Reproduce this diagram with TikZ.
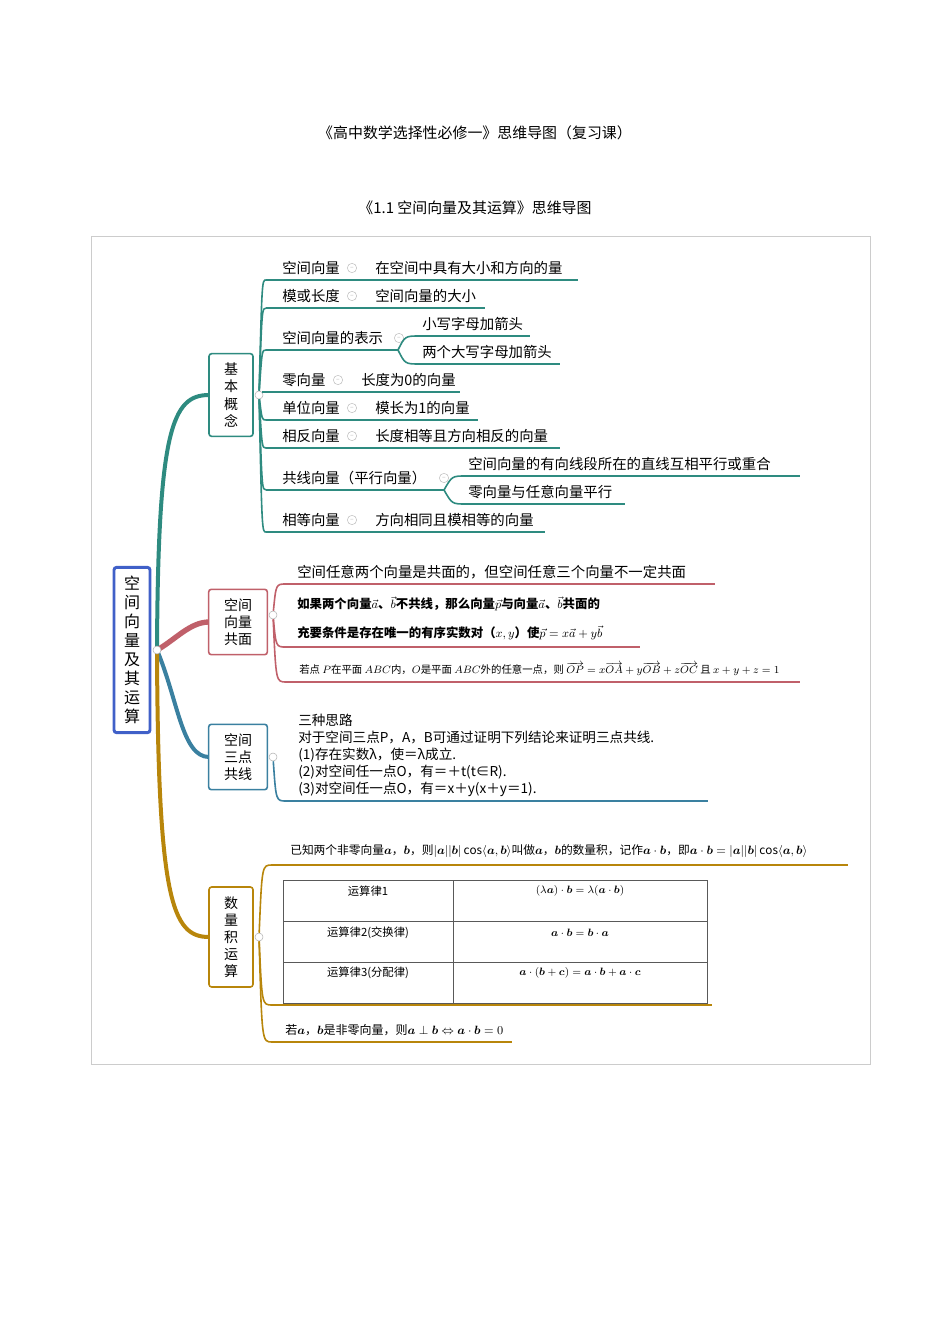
\documentclass[tikz,border=0pt]{standalone}
\usepackage{fontspec}
\setmainfont{Noto Sans CJK SC}
\usepackage{amsmath}
\definecolor{cteal}{HTML}{2E8B80}
\definecolor{cred}{HTML}{C0606A}
\definecolor{cblue}{HTML}{3A80A0}
\definecolor{cgold}{HTML}{B8860B}
\definecolor{cmain}{HTML}{4060C8}
\begin{document}
\begin{tikzpicture}[x=0.75pt,y=-0.75pt,
  lbl/.style={anchor=west,inner sep=0pt,font=\fontsize{10.8}{12}\selectfont},
  sm/.style={anchor=west,inner sep=0pt,font=\fontsize{9.3}{10}\selectfont\bfseries},
  tiny/.style={anchor=west,inner sep=0pt,font=\fontsize{7.8}{9}\selectfont},
  topic/.style={draw,line width=1.2pt,rounded corners=2pt,fill=white,align=center,inner sep=0pt,font=\fontsize{10.5}{12.8}\selectfont},
  uline/.style={line width=1.4pt},
  br/.style={line width=1.2pt},
  dotc/.style={circle,draw=gray!60,fill=white,inner sep=0pt,minimum size=6pt},
  mini/.style={circle,draw=gray!50,inner sep=0pt,minimum size=7pt,font=\fontsize{5}{5}\selectfont,text=gray!60}]
\useasboundingbox (0,0) rectangle (950,1344);
\node (t1) at (475,133) {\fontsize{11.2}{13}\selectfont 《高中数学选择性必修一》思维导图（复习课）};
\node (t2) at (475,208) {\fontsize{11.2}{13}\selectfont 《1.1 空间向量及其运算》思维导图};
\draw[gray!40] (91,236) rectangle (870,1064);

% main branches
\coordinate (m) at (157,650);
\coordinate (b1w) at (209,395);
\coordinate (b2w) at (209,622);
\coordinate (b3w) at (209,757);
\coordinate (b4w) at (209,937);
\draw[cteal,line width=3pt] (m) .. controls (158,430) and (172,395) .. (b1w);
\draw[cred,line width=4pt] (m) .. controls (175,640) and (190,622) .. (b2w);
\draw[cblue,line width=3pt] (m) .. controls (178,700) and (182,757) .. (b3w);
\draw[cgold,line width=3pt] (m) .. controls (158,900) and (172,937) .. (b4w);

\node[topic,draw=cmain,line width=2.2pt,minimum width=27pt,minimum height=124pt,font=\fontsize{12}{14.3}\selectfont] (main) at (132,650) {空\\间\\向\\量\\及\\其\\运\\算};
\node[dotc] (md) at (157,650) {};

% ---------- branch 1
\node[topic,draw=cteal,minimum width=33pt,minimum height=62pt] (b1) at (231,395) {基\\本\\概\\念};
\node[dotc] (d1) at (259,395) {};
\foreach \ty/\ul/\lab/\lx/\ex/\mx in {
  268/280/空间向量/375/578/352,
  296/308/模或长度/375/485/352,
  380/392/零向量/361/460/338,
  408/420/单位向量/375/478/352,
  436/448/相反向量/375/560/352,
  520/532/相等向量/375/545/352}{
  \coordinate (s) at (266,\ul);
  \coordinate (e) at (\ex,\ul);
  \draw[cteal,br] (d1) .. controls (262,\ul) .. (s);
  \draw[cteal,uline] (s) -- (e);
  \node[lbl] at (282,\ty) {\lab};
  \node[mini] at (\mx,\ty) {--};
}
\node[lbl] at (375,268) {在空间中具有大小和方向的量};
\node[lbl] at (375,296) {空间向量的大小};
\node[lbl] at (361,380) {长度为0的向量};
\node[lbl] at (375,408) {模长为1的向量};
\node[lbl] at (375,436) {长度相等且方向相反的向量};
\node[lbl] at (375,520) {方向相同且模相等的向量};
% representation
\coordinate (r0) at (266,350); \coordinate (r1) at (398,350);
\draw[cteal,br] (d1) .. controls (262,350) .. (r0);
\draw[cteal,uline] (r0) -- (r1);
\node[lbl] at (282,338) {空间向量的表示};
\node[mini] at (399,338) {--};
\coordinate (ra) at (420,336); \coordinate (rb) at (530,336);
\coordinate (rc) at (420,364); \coordinate (rd) at (560,364);
\draw[cteal,br] (r1) .. controls (405,336) .. (ra);
\draw[cteal,br] (r1) .. controls (405,364) .. (rc);
\draw[cteal,uline] (ra) -- (rb); \draw[cteal,uline] (rc) -- (rd);
\node[lbl] at (422,324) {小写字母加箭头};
\node[lbl] at (422,352) {两个大写字母加箭头};
% collinear
\coordinate (c0) at (266,490); \coordinate (c1) at (444,490);
\draw[cteal,br] (d1) .. controls (262,490) .. (c0);
\draw[cteal,uline] (c0) -- (c1);
\node[lbl] at (282,478) {共线向量（平行向量）};
\node[mini] at (444,478) {--};
\coordinate (ca) at (466,476); \coordinate (cb) at (800,476);
\coordinate (cc) at (466,504); \coordinate (cd) at (625,504);
\draw[cteal,br] (c1) .. controls (452,476) .. (ca);
\draw[cteal,br] (c1) .. controls (452,504) .. (cc);
\draw[cteal,uline] (ca) -- (cb); \draw[cteal,uline] (cc) -- (cd);
\node[lbl] at (468,464) {空间向量的有向线段所在的直线互相平行或重合};
\node[lbl] at (468,492) {零向量与任意向量平行};

% ---------- branch 2
\node[topic,draw=cred,minimum width=44pt,minimum height=49pt] (b2) at (238,622) {空间\\向量\\共面};
\node[dotc] (d2) at (273,615) {};
\foreach \ul/\ex in {584/715,647/640,682/800}{
  \coordinate (s) at (286,\ul); \coordinate (e) at (\ex,\ul);
  \draw[cred,br] (d2) .. controls (276,\ul) .. (s);
  \draw[cred,uline] (s) -- (e);
}
\node[lbl] at (297,572) {空间任意两个向量是共面的，但空间任意三个向量不一定共面};
\node[sm] at (297,604) {如果两个向量$\vec{a}$、$\vec{b}$不共线，那么向量$\vec{p}$与向量$\vec{a}$、$\vec{b}$共面的};
\node[sm] at (297,633) {充要条件是存在唯一的有序实数对（$x,y$）使$\vec{p}=x\vec{a}+y\vec{b}$};
\node[tiny] at (299,669) {若点 $P$在平面 $ABC$内，$O$是平面 $ABC$外的任意一点，则 $\overrightarrow{OP}=x\overrightarrow{OA}+y\overrightarrow{OB}+z\overrightarrow{OC}$ 且 $x+y+z=1$};

% ---------- branch 3
\node[topic,draw=cblue,minimum width=44pt,minimum height=49pt] (b3) at (238,757) {空间\\三点\\共线};
\node[dotc] (d3) at (273,757) {};
\coordinate (s3) at (286,801); \coordinate (e3) at (708,801);
\draw[cblue,br] (d3) .. controls (276,801) .. (s3);
\draw[cblue,uline] (s3) -- (e3);
\node[anchor=north west,inner sep=0pt,align=left,font=\fontsize{10.2}{12.75}\selectfont] (b3t) at (298,714) {三种思路\\对于空间三点P，A，B可通过证明下列结论来证明三点共线.\\(1)存在实数λ，使＝λ成立.\\(2)对空间任一点O，有＝＋t(t∈R).\\(3)对空间任一点O，有＝x＋y(x＋y＝1).};

% ---------- branch 4
\node[topic,draw=cgold,minimum width=33pt,minimum height=75pt] (b4) at (231,937) {数\\量\\积\\运\\算};
\node[dotc] (d4) at (259,937) {};
\foreach \ul/\ex in {865/848,1005/712,1042/512}{
  \coordinate (s) at (272,\ul); \coordinate (e) at (\ex,\ul);
  \draw[cgold,br] (d4) .. controls (262,\ul) .. (s);
  \draw[cgold,uline] (s) -- (e);
}
\node[tiny,font=\fontsize{8.8}{9}\selectfont] at (290,851) {已知两个非零向量$\boldsymbol a$，$\boldsymbol b$，则$|\boldsymbol a||\boldsymbol b|\cos\langle \boldsymbol a,\boldsymbol b\rangle$叫做$\boldsymbol a$，$\boldsymbol b$的数量积，记作$\boldsymbol a\cdot\boldsymbol b$，即$\boldsymbol a\cdot\boldsymbol b=|\boldsymbol a||\boldsymbol b|\cos\langle \boldsymbol a,\boldsymbol b\rangle$};
\draw[gray!70!black,line width=0.6pt] (283,880) rectangle (707,1003);
\draw[gray!70!black,line width=0.6pt] (453,880) -- (453,1003) (283,921) -- (707,921) (283,962) -- (707,962);
\node[font=\fontsize{8.5}{9}\selectfont] (r1a) at (368,891) {运算律1};
\node[font=\fontsize{8.5}{9}\selectfont] (r1b) at (580,891) {$(\lambda\boldsymbol a)\cdot\boldsymbol b=\lambda(\boldsymbol a\cdot\boldsymbol b)$};
\node[font=\fontsize{8.5}{9}\selectfont] (r2a) at (368,933) {运算律2(交换律)};
\node[font=\fontsize{8.5}{9}\selectfont] (r2b) at (580,933) {$\boldsymbol a\cdot\boldsymbol b=\boldsymbol b\cdot\boldsymbol a$};
\node[font=\fontsize{8.5}{9}\selectfont] (r3a) at (368,973) {运算律3(分配律)};
\node[font=\fontsize{8.5}{9}\selectfont] (r3b) at (580,973) {$\boldsymbol a\cdot(\boldsymbol b+\boldsymbol c)=\boldsymbol a\cdot\boldsymbol b+\boldsymbol a\cdot\boldsymbol c$};
\node[tiny,font=\fontsize{9}{10}\selectfont] at (285,1030) {若$\boldsymbol a$，$\boldsymbol b$是非零向量，则$\boldsymbol a\perp\boldsymbol b\Leftrightarrow\boldsymbol a\cdot\boldsymbol b=0$};
\end{tikzpicture}
\end{document}
